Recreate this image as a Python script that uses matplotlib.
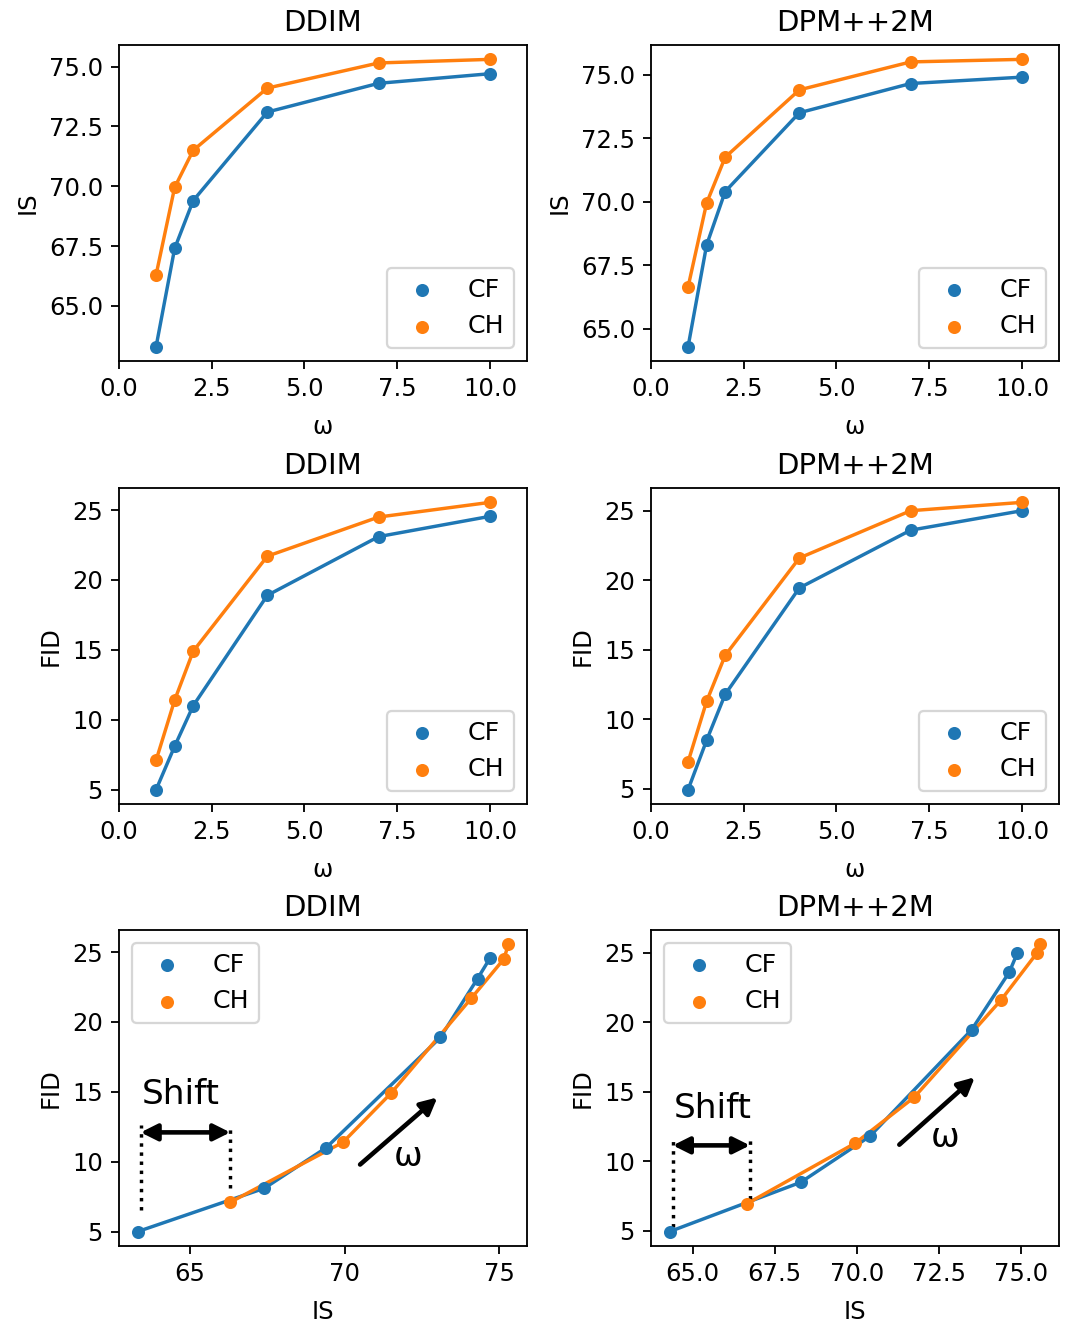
import numpy as np
import matplotlib
matplotlib.use("Agg")
import matplotlib.pyplot as plt

plt.rcParams["font.size"] = 10.6

# guidance scale sweep
omega = [1, 1.5, 2, 4, 7, 10]

# IS values
is_ddim_cf = [63.3, 67.4, 69.4, 73.1, 74.3, 74.7]
is_ddim_ch = [66.3, 69.95, 71.5, 74.1, 75.15, 75.3]
is_dpm_cf = [64.3, 68.3, 70.4, 73.5, 74.65, 74.9]
is_dpm_ch = [66.65, 69.95, 71.75, 74.4, 75.5, 75.6]

# FID values
fid_ddim_cf = [5.0, 8.1, 11.0, 18.9, 23.1, 24.55]
fid_ddim_ch = [7.1, 11.4, 14.9, 21.7, 24.5, 25.55]
fid_dpm_cf = [4.95, 8.5, 11.8, 19.45, 23.6, 25.0]
fid_dpm_ch = [6.95, 11.3, 14.6, 21.6, 25.0, 25.6]

titles = ["DDIM", "DPM++2M"]
labels = ["CF", "CH"]

W, H, DPI = 1076, 1331, 165
fig = plt.figure(figsize=(W / DPI, H / DPI), dpi=DPI)

col_left = [119 / W, 651 / W]
col_w = 408 / W
row_top = [45, 488, 930]
row_h = 316 / H

axes = [[fig.add_axes([col_left[c], 1 - (row_top[r] + 316) / H, col_w, row_h])
         for c in range(2)] for r in range(3)]

is_data = [(is_ddim_cf, is_ddim_ch), (is_dpm_cf, is_dpm_ch)]
fid_data = [(fid_ddim_cf, fid_ddim_ch), (fid_dpm_cf, fid_dpm_ch)]
colors = ["C0", "C1"]


def draw(ax, xs, ys, title, xlabel, ylabel, loc):
    for x, y, col, lab in zip(xs, ys, colors, labels):
        ax.plot(x, y, color=col, lw=1.5)
        ax.scatter(x, y, color=col, s=22, zorder=3, label=lab)
    ax.set_title(title)
    ax.set_xlabel(xlabel, labelpad=6)
    ax.set_ylabel(ylabel)
    ax.legend(loc=loc, fontsize=11)


for c in range(2):
    draw(axes[0][c], [omega, omega], is_data[c], titles[c], "ω", "IS", "lower right")
    axes[0][c].set_xlim(0, 11)
    draw(axes[1][c], [omega, omega], fid_data[c], titles[c], "ω", "FID", "lower right")
    axes[1][c].set_xlim(0, 11)
    draw(axes[2][c], list(is_data[c]), fid_data[c], titles[c], "IS", "FID", "upper left")

# annotations on the IS-FID plots
ax = axes[2][0]
ax.plot([63.4, 63.4], [6.55, 12.6], ls=":", color="black", lw=1.5)
ax.plot([66.3, 66.3], [8.1, 12.6], ls=":", color="black", lw=1.5)
ax.annotate("", xy=(66.3, 12.1), xytext=(63.4, 12.1),
            arrowprops=dict(arrowstyle="<|-|>", color="black", lw=2, mutation_scale=15,
                            shrinkA=0, shrinkB=0))
ax.text(63.45, 14.1, "Shift", fontsize=15, ha="left", va="baseline")
ax.annotate("", xy=(73.0, 14.6), xytext=(70.5, 9.8),
            arrowprops=dict(arrowstyle="-|>", color="black", lw=2, mutation_scale=15,
                            shrinkA=0, shrinkB=0))
ax.text(72.05, 10.4, "ω", fontsize=15, ha="center", va="center")

ax = axes[2][1]
ax.plot([64.4, 64.4], [5.3, 11.75], ls=":", color="black", lw=1.5)
ax.plot([66.75, 66.75], [7.3, 11.75], ls=":", color="black", lw=1.5)
ax.annotate("", xy=(66.75, 11.15), xytext=(64.4, 11.15),
            arrowprops=dict(arrowstyle="<|-|>", color="black", lw=2, mutation_scale=15,
                            shrinkA=0, shrinkB=0))
ax.text(64.43, 13.1, "Shift", fontsize=15, ha="left", va="baseline")
ax.annotate("", xy=(73.6, 16.05), xytext=(71.3, 11.2),
            arrowprops=dict(arrowstyle="-|>", color="black", lw=2, mutation_scale=15,
                            shrinkA=0, shrinkB=0))
ax.text(72.7, 11.75, "ω", fontsize=15, ha="center", va="center")

fig.savefig("out.png", dpi=DPI)
